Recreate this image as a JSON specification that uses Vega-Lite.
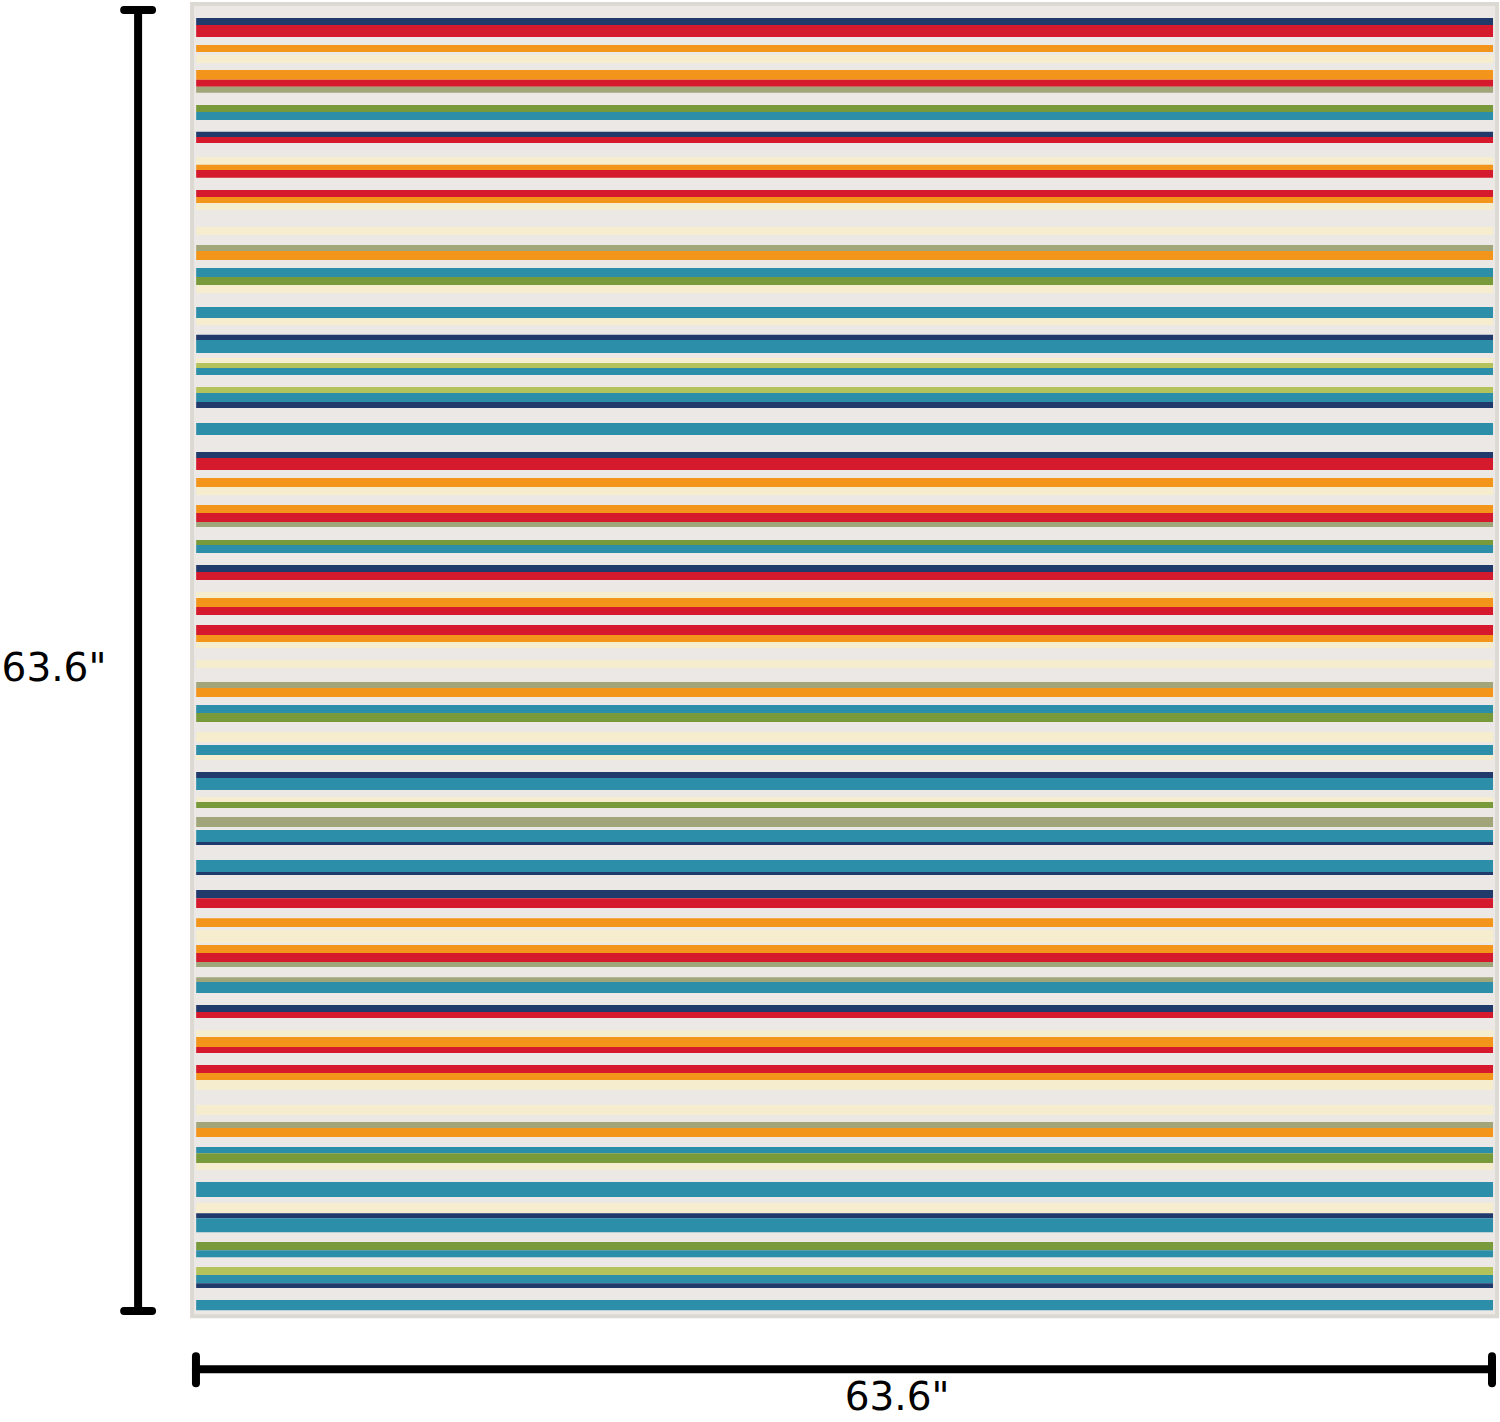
{
  "$schema": "https://vega.github.io/schema/vega-lite/v6.json",
  "description": "Striped square rug, 63.6 x 63.6 inches, with dimension lines",
  "width": 1500,
  "height": 1422,
  "padding": 0,
  "autosize": {"type": "fit", "contains": "padding"},
  "background": "white",
  "datasets": {
    "rug": [{"x": 0, "x2": 63.6, "y": 0, "y2": 63.6}],
    "stripes": [
      {"y": 0.68, "y2": 1.02, "c": "navy"},
      {"y": 1.02, "y2": 1.6, "c": "red"},
      {"y": 1.99, "y2": 2.33, "c": "orange"},
      {"y": 2.47, "y2": 2.86, "c": "cream"},
      {"y": 3.2, "y2": 3.68, "c": "orange"},
      {"y": 3.68, "y2": 4.02, "c": "red"},
      {"y": 4.02, "y2": 4.31, "c": "olive"},
      {"y": 4.9, "y2": 5.24, "c": "green"},
      {"y": 5.24, "y2": 5.62, "c": "teal"},
      {"y": 6.2, "y2": 6.45, "c": "navy"},
      {"y": 6.45, "y2": 6.74, "c": "red"},
      {"y": 7.42, "y2": 7.8, "c": "cream"},
      {"y": 7.8, "y2": 8.05, "c": "orange"},
      {"y": 8.05, "y2": 8.43, "c": "red"},
      {"y": 9.02, "y2": 9.36, "c": "red"},
      {"y": 9.36, "y2": 9.65, "c": "orange"},
      {"y": 9.65, "y2": 9.99, "c": "cream"},
      {"y": 10.81, "y2": 11.2, "c": "cream"},
      {"y": 11.68, "y2": 11.97, "c": "olive"},
      {"y": 11.97, "y2": 12.41, "c": "orange"},
      {"y": 12.8, "y2": 13.23, "c": "teal"},
      {"y": 13.23, "y2": 13.62, "c": "green"},
      {"y": 13.62, "y2": 14.01, "c": "cream"},
      {"y": 14.69, "y2": 15.22, "c": "teal"},
      {"y": 15.22, "y2": 15.56, "c": "cream"},
      {"y": 16.04, "y2": 16.29, "c": "navy"},
      {"y": 16.29, "y2": 16.92, "c": "teal"},
      {"y": 17.16, "y2": 17.4, "c": "cream"},
      {"y": 17.4, "y2": 17.64, "c": "lime"},
      {"y": 17.64, "y2": 17.98, "c": "teal"},
      {"y": 18.57, "y2": 18.86, "c": "lime"},
      {"y": 18.86, "y2": 19.29, "c": "teal"},
      {"y": 19.29, "y2": 19.58, "c": "navy"},
      {"y": 20.31, "y2": 20.65, "c": "teal"},
      {"y": 20.65, "y2": 20.89, "c": "teal"},
      {"y": 21.72, "y2": 22.01, "c": "navy"},
      {"y": 22.01, "y2": 22.59, "c": "red"},
      {"y": 22.98, "y2": 23.41, "c": "orange"},
      {"y": 23.41, "y2": 23.8, "c": "cream"},
      {"y": 24.28, "y2": 24.67, "c": "orange"},
      {"y": 24.67, "y2": 25.11, "c": "red"},
      {"y": 25.11, "y2": 25.35, "c": "olive"},
      {"y": 25.98, "y2": 26.22, "c": "green"},
      {"y": 26.22, "y2": 26.61, "c": "teal"},
      {"y": 27.19, "y2": 27.53, "c": "navy"},
      {"y": 27.53, "y2": 27.92, "c": "red"},
      {"y": 28.5, "y2": 28.79, "c": "cream"},
      {"y": 28.79, "y2": 29.23, "c": "orange"},
      {"y": 29.23, "y2": 29.62, "c": "red"},
      {"y": 30.1, "y2": 30.59, "c": "red"},
      {"y": 30.59, "y2": 30.93, "c": "orange"},
      {"y": 30.93, "y2": 31.22, "c": "cream"},
      {"y": 31.8, "y2": 32.19, "c": "cream"},
      {"y": 32.86, "y2": 33.16, "c": "olive"},
      {"y": 33.16, "y2": 33.59, "c": "orange"},
      {"y": 33.98, "y2": 34.37, "c": "teal"},
      {"y": 34.37, "y2": 34.8, "c": "green"},
      {"y": 35.29, "y2": 35.77, "c": "cream"},
      {"y": 35.92, "y2": 36.4, "c": "teal"},
      {"y": 36.4, "y2": 36.64, "c": "cream"},
      {"y": 37.23, "y2": 37.52, "c": "navy"},
      {"y": 37.52, "y2": 38.1, "c": "teal"},
      {"y": 38.44, "y2": 38.68, "c": "cream"},
      {"y": 38.68, "y2": 38.97, "c": "green"},
      {"y": 39.41, "y2": 39.89, "c": "olive"},
      {"y": 40.04, "y2": 40.62, "c": "teal"},
      {"y": 40.62, "y2": 40.77, "c": "navy"},
      {"y": 41.49, "y2": 42.07, "c": "teal"},
      {"y": 42.07, "y2": 42.22, "c": "navy"},
      {"y": 42.95, "y2": 43.34, "c": "navy"},
      {"y": 43.34, "y2": 43.82, "c": "red"},
      {"y": 44.31, "y2": 44.74, "c": "orange"},
      {"y": 44.89, "y2": 45.52, "c": "cream"},
      {"y": 45.61, "y2": 46.0, "c": "orange"},
      {"y": 46.0, "y2": 46.44, "c": "red"},
      {"y": 46.44, "y2": 46.68, "c": "olive"},
      {"y": 47.17, "y2": 47.41, "c": "olive"},
      {"y": 47.41, "y2": 47.94, "c": "teal"},
      {"y": 48.52, "y2": 48.86, "c": "navy"},
      {"y": 48.86, "y2": 49.15, "c": "red"},
      {"y": 49.74, "y2": 50.07, "c": "cream"},
      {"y": 50.07, "y2": 50.56, "c": "orange"},
      {"y": 50.56, "y2": 50.85, "c": "red"},
      {"y": 51.43, "y2": 51.82, "c": "red"},
      {"y": 51.82, "y2": 52.16, "c": "orange"},
      {"y": 52.16, "y2": 52.64, "c": "cream"},
      {"y": 53.37, "y2": 53.85, "c": "cream"},
      {"y": 54.19, "y2": 54.48, "c": "olive"},
      {"y": 54.48, "y2": 54.92, "c": "orange"},
      {"y": 55.4, "y2": 55.7, "c": "teal"},
      {"y": 55.7, "y2": 56.18, "c": "green"},
      {"y": 56.18, "y2": 56.52, "c": "cream"},
      {"y": 57.1, "y2": 57.83, "c": "teal"},
      {"y": 58.12, "y2": 58.61, "c": "cream"},
      {"y": 58.61, "y2": 58.85, "c": "navy"},
      {"y": 58.85, "y2": 59.53, "c": "teal"},
      {"y": 60.01, "y2": 60.4, "c": "green"},
      {"y": 60.4, "y2": 60.74, "c": "teal"},
      {"y": 61.22, "y2": 61.61, "c": "lime"},
      {"y": 61.61, "y2": 62.0, "c": "teal"},
      {"y": 62.0, "y2": 62.24, "c": "navy"},
      {"y": 62.82, "y2": 63.31, "c": "teal"}
    ],
    "dims": [
      {"x": -2.63, "x2": -2.63, "y": 0.29, "y2": 63.35},
      {"x": -3.31, "x2": -1.95, "y": 0.29, "y2": 0.29},
      {"x": -3.31, "x2": -1.95, "y": 63.35, "y2": 63.35},
      {"x": 0.19, "x2": 63.35, "y": 66.17, "y2": 66.17},
      {"x": 0.19, "x2": 0.19, "y": 65.54, "y2": 66.85},
      {"x": 63.35, "x2": 63.35, "y": 65.54, "y2": 66.85}
    ],
    "labels": [
      {"x": -6.73, "y": 32.23, "text": "63.6\""},
      {"x": 34.36, "y": 67.55, "text": "63.6\""}
    ]
  },
  "layer": [
    {
      "data": {"name": "rug"},
      "mark": {"type": "rect", "fill": "#ece8e5", "stroke": "#dcd9d3", "strokeWidth": 4},
      "encoding": {
        "x": {"field": "x", "type": "quantitative", "axis": null, "scale": {"domain": [-9.36, 63.74], "nice": false, "zero": false}},
        "x2": {"field": "x2"},
        "y": {"field": "y", "type": "quantitative", "axis": null, "scale": {"domain": [-0.19, 68.73], "nice": false, "zero": false, "reverse": true}},
        "y2": {"field": "y2"}
      }
    },
    {
      "data": {"name": "stripes"},
      "mark": {"type": "rect"},
      "encoding": {
        "x": {"datum": 0.2, "type": "quantitative", "axis": null, "scale": {"domain": [-9.36, 63.74], "nice": false, "zero": false}},
        "x2": {"datum": 63.4},
        "y": {"field": "y", "type": "quantitative", "axis": null, "scale": {"domain": [-0.19, 68.73], "nice": false, "zero": false, "reverse": true}},
        "y2": {"field": "y2"},
        "color": {
          "field": "c",
          "type": "nominal",
          "legend": null,
          "scale": {
            "domain": ["red", "orange", "navy", "teal", "green", "olive", "lime", "cream"],
            "range": ["#d41a2c", "#f3951b", "#1f3a6b", "#2c8ea8", "#789a3a", "#a0a67a", "#b4c25c", "#f5edcd"]
          }
        }
      }
    },
    {
      "data": {"name": "dims"},
      "mark": {"type": "rule", "color": "black", "strokeWidth": 8, "strokeCap": "round"},
      "encoding": {
        "x": {"field": "x", "type": "quantitative", "axis": null, "scale": {"domain": [-9.36, 63.74], "nice": false, "zero": false}},
        "x2": {"field": "x2"},
        "y": {"field": "y", "type": "quantitative", "axis": null, "scale": {"domain": [-0.19, 68.73], "nice": false, "zero": false, "reverse": true}},
        "y2": {"field": "y2"}
      }
    },
    {
      "data": {"name": "labels"},
      "mark": {"type": "text", "font": "DejaVu Sans", "fontSize": 39, "color": "black", "align": "center", "baseline": "middle"},
      "encoding": {
        "x": {"field": "x", "type": "quantitative", "axis": null, "scale": {"domain": [-9.36, 63.74], "nice": false, "zero": false}},
        "y": {"field": "y", "type": "quantitative", "axis": null, "scale": {"domain": [-0.19, 68.73], "nice": false, "zero": false, "reverse": true}},
        "text": {"field": "text"}
      }
    }
  ],
  "config": {
    "view": {"stroke": null}
  }
}
